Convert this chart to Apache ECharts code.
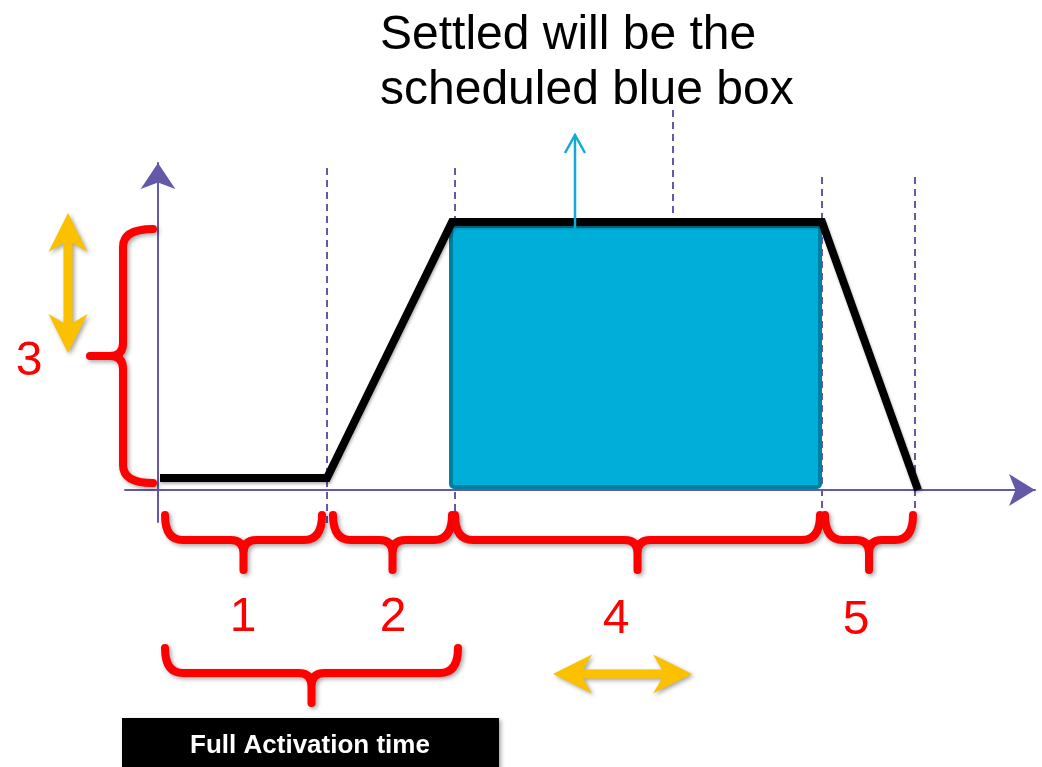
<!DOCTYPE html>
<html><head><meta charset="utf-8">
<script src="https://cdn.jsdelivr.net/npm/echarts@6/dist/echarts.min.js"></script>
<style>html,body{margin:0;padding:0;background:#fff}#c{width:1042px;height:767px}</style>
</head><body><div id="c"></div>
<script>
// ---- data (time units on x, level units on y) ----
const profileX = [0.2, 16.9, 29.4, 66.4, 76.0];
const profileY = [1.2, 1.2, 26.8, 26.8, 0.0];
const boxX = [29.3, 66.2];
const boxY = [0.3, 26.4];
const guideX = [16.9, 29.7, 66.4, 75.7, 51.5];
const guideTop = [32.2, 32.2, 31.3, 31.3, 38.0];
const guideBottom = [-3.5, -3.5, -3.5, -3.5, 26.8];
const braceX0 = [0.7, 17.5, 29.7, 66.7, 0.7, -0.5];
const braceY0 = [-2.5, -2.5, -2.5, -2.5, -15.8, 26.1];
const braceX1 = [16.4, 29.4, 66.2, 75.5, 30.0, -0.5];
const braceY1 = [-2.5, -2.5, -2.5, -2.5, -15.8, 0.7];
const braceKind = [0, 0, 0, 0, 0, 1];
const phaseLabels = ['1', '2', '3', '4', '5'];
const labelX = [8.5, 23.5, -12.9, 45.8, 69.8];
const labelY = [-12.8, -12.8, 12.8, -13.0, -13.1];
const rangeArrowX0 = [-9.0, 39.5];
const rangeArrowY0 = [27.7, -18.4];
const rangeArrowX1 = [-9.0, 53.4];
const rangeArrowY1 = [13.7, -18.4];
const settleArrow = [41.7, 26.2, 41.7, 35.5];
const xRange = [-3.3, 87.7];
const yRange = [-3.2, 32.7];
const titleLines = ['Settled will be the', 'scheduled blue box'];
const footerLabel = 'Full Activation time';

const FONT = '"Liberation Sans", Arial, sans-serif';
const AXIS_COLOR = '#6459A8';
const RED = '#FF0000';
const YELLOW = '#FBC000';
const shadow = { shadowBlur: 4, shadowColor: 'rgba(0,0,0,0.35)', shadowOffsetX: 2, shadowOffsetY: 2 };

const chart = echarts.init(document.getElementById('c'), null, { renderer: 'canvas' });

function localFrame(p0, p1) {
  const dx = p1[0] - p0[0], dy = p1[1] - p0[1];
  const L = Math.hypot(dx, dy);
  const t = [dx / L, dy / L];
  const n = [-t[1], t[0]];
  const P = (u, v) => [p0[0] + u * t[0] + v * n[0], p0[1] + u * t[1] + v * n[1]];
  return { L, P };
}
const f = p => p[0].toFixed(2) + ' ' + p[1].toFixed(2);

function renderBrace(params, api) {
  const p0 = api.coord([api.value(0), api.value(1)]);
  const p1 = api.coord([api.value(2), api.value(3)]);
  const vertical = api.value(4) === 1;
  const h1 = vertical ? 30 : 25, h2 = vertical ? 63 : 55;
  const r = 18, r2 = 13;
  const { L, P } = localFrame(p0, p1);
  const m = L / 2;
  const d = [
    'M', f(P(0, 0)), 'Q', f(P(0, h1)), f(P(r, h1)), 'L', f(P(m - r2, h1)),
    'Q', f(P(m, h1)), f(P(m, h1 + r2)), 'L', f(P(m, h2)),
    'M', f(P(L, 0)), 'Q', f(P(L, h1)), f(P(L - r, h1)), 'L', f(P(m + r2, h1)),
    'Q', f(P(m, h1)), f(P(m, h1 + r2))
  ].join(' ');
  return {
    type: 'path', shape: { pathData: d },
    style: Object.assign({ fill: null, stroke: RED, lineWidth: 8, lineCap: 'round', lineJoin: 'round' }, shadow)
  };
}

function renderDoubleArrow(params, api) {
  const p0 = api.coord([api.value(0), api.value(1)]);
  const p1 = api.coord([api.value(2), api.value(3)]);
  const { L, P } = localFrame(p0, p1);
  const hl = 39, hj = 30, hw = 19.5, w = 4.5;
  const pts = [P(0, 0), P(hl, -hw), P(hj, -w), P(L - hj, -w), P(L - hl, -hw), P(L, 0),
               P(L - hl, hw), P(L - hj, w), P(hj, w), P(hl, hw)];
  return { type: 'polygon', shape: { points: pts }, style: Object.assign({ fill: YELLOW }, shadow) };
}

function renderGuide(params, api) {
  const a = api.coord([api.value(0), api.value(1)]);
  const b = api.coord([api.value(0), api.value(2)]);
  return { type: 'line', shape: { x1: a[0], y1: a[1], x2: b[0], y2: b[1] },
    style: { stroke: AXIS_COLOR, lineWidth: 2, lineDash: [7, 5] } };
}

function renderBox(params, api) {
  const a = api.coord([api.value(0), api.value(3)]);
  const b = api.coord([api.value(1), api.value(2)]);
  return { type: 'rect', shape: { x: a[0], y: a[1], width: b[0] - a[0], height: b[1] - a[1], r: 3 },
    style: { fill: '#00AEDA', stroke: '#00809F', lineWidth: 4 } };
}

function renderSettleArrow(params, api) {
  const a = api.coord([api.value(0), api.value(1)]);
  const b = api.coord([api.value(2), api.value(3)]);
  return { type: 'group', children: [
    { type: 'line', shape: { x1: a[0], y1: a[1], x2: b[0], y2: b[1] }, style: { stroke: '#12A8D8', lineWidth: 2.5 } },
    { type: 'polyline', shape: { points: [[b[0] - 10, b[1] + 18], [b[0], b[1]], [b[0] + 10, b[1] + 18]] },
      style: { stroke: '#12A8D8', lineWidth: 2.5, fill: null } }
  ] };
}

function renderLabel(params, api) {
  const p = api.coord([api.value(0), api.value(1)]);
  return { type: 'text', x: p[0], y: p[1],
    style: { text: phaseLabels[params.dataIndex], font: '48px ' + FONT, fill: RED, align: 'center', verticalAlign: 'middle' } };
}

const option = {
  animation: false,
  backgroundColor: '#fff',
  grid: { left: 125, right: 7, top: 163, bottom: 245, containLabel: false, outerBoundsMode: 'none' },
  xAxis: {
    type: 'value', min: xRange[0], max: xRange[1],
    axisLine: { show: true, onZero: true, symbol: ['none', 'arrow'], symbolSize: [24, 26],
      lineStyle: { color: AXIS_COLOR, width: 2 } },
    axisTick: { show: false }, axisLabel: { show: false }, splitLine: { show: false }
  },
  yAxis: {
    type: 'value', min: yRange[0], max: yRange[1],
    axisLine: { show: true, onZero: true, symbol: ['none', 'arrow'], symbolSize: [26, 26],
      lineStyle: { color: AXIS_COLOR, width: 2 } },
    axisTick: { show: false }, axisLabel: { show: false }, splitLine: { show: false }
  },
  series: [
    { type: 'custom', clip: false, z: 1, renderItem: renderGuide, silent: true,
      data: guideX.map((x, i) => [x, guideTop[i], guideBottom[i]]) },
    { type: 'custom', clip: false, z: 2, renderItem: renderBox, silent: true,
      data: [[boxX[0], boxX[1], boxY[0], boxY[1]]] },
    { type: 'line', z: 3, symbol: 'none', silent: true,
      data: profileX.map((x, i) => [x, profileY[i]]),
      lineStyle: Object.assign({ color: '#000', width: 8, join: 'miter', cap: 'butt' },
        { shadowBlur: 3, shadowColor: 'rgba(0,0,0,0.3)', shadowOffsetX: 1, shadowOffsetY: 2 }) },
    { type: 'custom', clip: false, z: 4, renderItem: renderSettleArrow, silent: true, data: [settleArrow] },
    { type: 'custom', clip: false, z: 5, renderItem: renderBrace, silent: true,
      data: braceX0.map((x, i) => [x, braceY0[i], braceX1[i], braceY1[i], braceKind[i]]) },
    { type: 'custom', clip: false, z: 5, renderItem: renderDoubleArrow, silent: true,
      data: rangeArrowX0.map((x, i) => [x, rangeArrowY0[i], rangeArrowX1[i], rangeArrowY1[i]]) },
    { type: 'custom', clip: false, z: 6, renderItem: renderLabel, silent: true,
      data: labelX.map((x, i) => [x, labelY[i]]) }
  ],
  graphic: [
    { type: 'text', x: 380, y: 8, style: { text: titleLines.join('\n'), font: '48px ' + FONT, lineHeight: 55, fill: '#000' } },
    { type: 'rect', shape: { x: 122, y: 718, width: 377, height: 60 }, style: Object.assign({ fill: '#000' }, shadow) },
    { type: 'text', x: 310, y: 746, style: { text: footerLabel, font: 'bold 26px ' + FONT, fill: '#fff', align: 'center', verticalAlign: 'middle' } }
  ]
};
chart.setOption(option);
</script></body></html>
